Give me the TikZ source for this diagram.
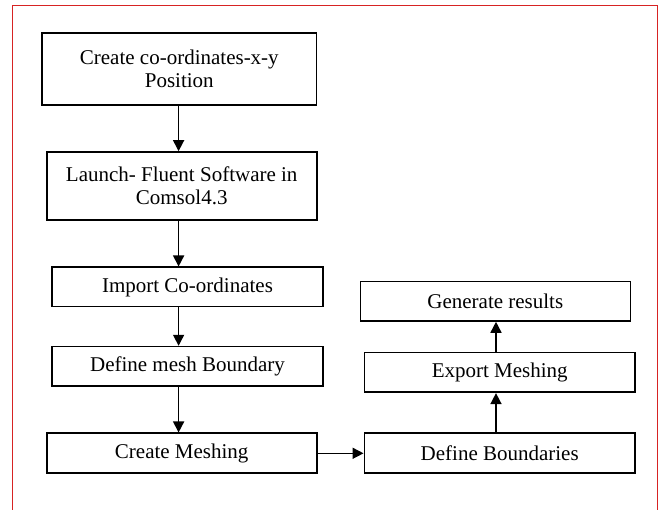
\documentclass[tikz,border=0pt]{standalone}
\usepackage{fontspec}
\setmainfont{Liberation Serif}
\usetikzlibrary{arrows.meta}
\definecolor{frame}{RGB}{215,35,35}
\begin{document}
\begin{tikzpicture}[x=1pt,y=-1pt,
  box/.style={draw=black,line width=1.6pt,align=center,inner sep=0pt,
    font=\fontsize{21}{23.5}\selectfont,fill=white},
  arr/.style={line width=1.5pt,-{Triangle[width=11pt,length=11pt]}}]
\useasboundingbox (0,0) rectangle (662,510);
\fill[white] (0,0) rectangle (662,510);
\draw[frame,line width=1.5pt] (12.5,510) -- (12.5,5.5) -- (657.7,5.5) -- (657.7,510);
\node[box,minimum width=274.7pt,minimum height=72pt] (b1) at (179.3,69) {Create co-ordinates-x-y\\Position};
\node[box,minimum width=270pt,minimum height=68pt] (b2) at (181.7,186) {Launch- Fluent Software in\\Comsol4.3};
\node[box,minimum width=271pt,minimum height=39.4pt] (b3) at (187.5,287) {Import Co-ordinates};
\node[box,minimum width=271pt,minimum height=39.4pt] (b4) at (187.5,366.3) {Define mesh Boundary};
\node[box,minimum width=270pt,minimum height=40pt] (b5) at (181.7,453.3) {Create Meshing};
\node[box,minimum width=270pt,minimum height=39.4pt] (gen) at (495.3,301.3) {Generate results};
\node[box,minimum width=270.7pt,minimum height=39.6pt] (exp) at (499.7,372.5) {Export Meshing};
\node[box,minimum width=270.7pt,minimum height=40pt] (defb) at (499.7,453.3) {Define Boundaries};
\coordinate (lx) at (178.6,0);
\coordinate (rx) at (496,0);
\draw[arr] (b1.south -| lx) -- (b2.north -| lx);
\draw[arr] (b2.south -| lx) -- (b3.north -| lx);
\draw[arr] (b3.south -| lx) -- (b4.north -| lx);
\draw[arr] (b4.south -| lx) -- (b5.north -| lx);
\draw[arr] (b5.east) -- (defb.west);
\draw[arr] (defb.north -| rx) -- (exp.south -| rx);
\draw[arr] (exp.north -| rx) -- (gen.south -| rx);
\end{tikzpicture}
\end{document}
